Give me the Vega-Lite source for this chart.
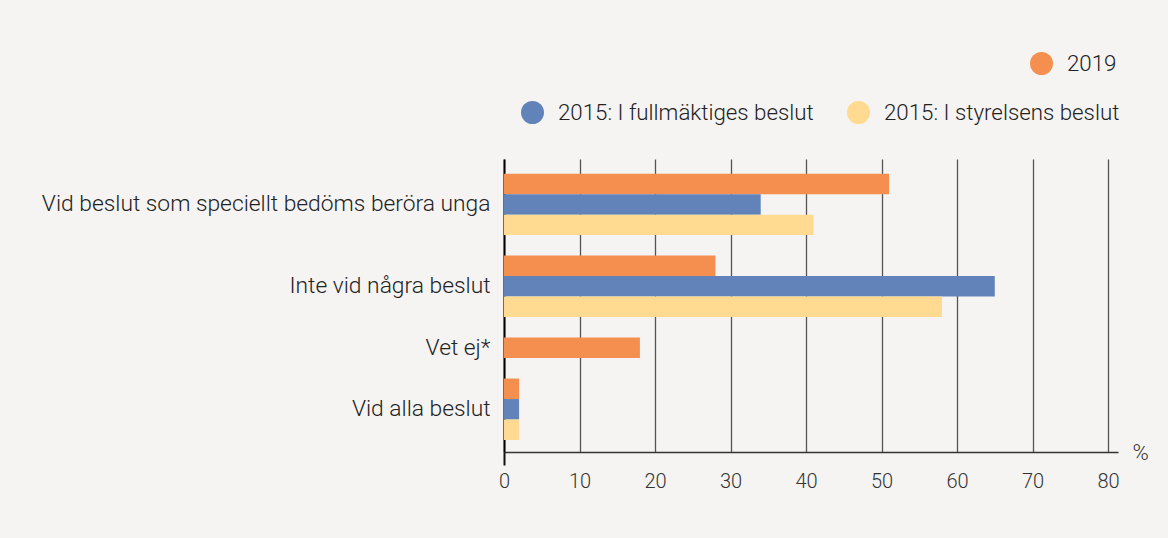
{
  "$schema": "https://vega.github.io/schema/vega-lite/v6.json",
  "autosize": {"type": "none"},
  "width": 614,
  "height": 293,
  "padding": {"left": 504, "top": 159, "right": 50, "bottom": 86},
  "background": "#f5f4f2",
  "config": {
    "view": {"stroke": null},
    "font": "Roboto",
    "legend": {"labelFont": "Roboto", "labelFontWeight": 300, "labelFontSize": 22.3, "labelColor": "#222222", "labelLimit": 0, "symbolType": "circle", "symbolSize": 529, "symbolStrokeWidth": 0, "padding": 0, "labelOffset": 14, "columnPadding": 33}
  },
  "data": {
    "values": [
      {"cat": "Vid beslut som speciellt bedöms beröra unga", "series": "2019", "value": 51},
      {"cat": "Vid beslut som speciellt bedöms beröra unga", "series": "2015: I fullmäktiges beslut", "value": 34},
      {"cat": "Vid beslut som speciellt bedöms beröra unga", "series": "2015: I styrelsens beslut", "value": 41},
      {"cat": "Inte vid några beslut", "series": "2019", "value": 28},
      {"cat": "Inte vid några beslut", "series": "2015: I fullmäktiges beslut", "value": 65},
      {"cat": "Inte vid några beslut", "series": "2015: I styrelsens beslut", "value": 58},
      {"cat": "Vet ej*", "series": "2019", "value": 18},
      {"cat": "Vid alla beslut", "series": "2019", "value": 2},
      {"cat": "Vid alla beslut", "series": "2015: I fullmäktiges beslut", "value": 2},
      {"cat": "Vid alla beslut", "series": "2015: I styrelsens beslut", "value": 2}
    ]
  },
  "transform": [{"calculate": "datum.cat + '|' + datum.series", "as": "key"}],
  "encoding": {
    "x": {
      "field": "value", "type": "quantitative",
      "scale": {"domain": [0, 81.32], "nice": false, "zero": true},
      "axis": {
        "values": [0, 10, 20, 30, 40, 50, 60, 70, 80],
        "grid": true, "gridColor": "#555555", "gridWidth": 1.3,
        "domainColor": "#333333", "domainWidth": 1.5,
        "ticks": true, "tickSize": 13, "tickWidth": 2,
        "tickColor": {"condition": {"test": "datum.value === 0", "value": "#111111"}, "value": "transparent"},
        "labelFont": "Roboto", "labelFontWeight": 300, "labelFontSize": 20, "labelColor": "#333333", "labelPadding": 6, "labelFlush": false,
        "title": "%", "titleFont": "Roboto", "titleFontWeight": 300, "titleFontSize": 22, "titleColor": "#333333",
        "titleAngle": 0, "titleX": 636, "titleY": 0, "titleBaseline": "middle", "titleAlign": "center"
      }
    },
    "y": {
      "field": "key", "type": "nominal",
      "scale": {
        "domain": [
          "Vid beslut som speciellt bedöms beröra unga|2019",
          "Vid beslut som speciellt bedöms beröra unga|2015: I fullmäktiges beslut",
          "Vid beslut som speciellt bedöms beröra unga|2015: I styrelsens beslut",
          "gap1",
          "Inte vid några beslut|2019",
          "Inte vid några beslut|2015: I fullmäktiges beslut",
          "Inte vid några beslut|2015: I styrelsens beslut",
          "gap2",
          "Vet ej*|2019",
          "gap3",
          "Vid alla beslut|2019",
          "Vid alla beslut|2015: I fullmäktiges beslut",
          "Vid alla beslut|2015: I styrelsens beslut"
        ],
        "paddingInner": 0, "paddingOuter": 0.65, "align": 0.55
      },
      "axis": {
        "title": null, "ticks": false, "domainColor": "#000000", "domainWidth": 2,
        "labelExpr": "(split(datum.value,'|')[1] == '2015: I fullmäktiges beslut' || split(datum.value,'|')[0] == 'Vet ej*') ? split(datum.value,'|')[0] : ''",
        "labelFont": "Roboto", "labelFontWeight": 300, "labelFontSize": 22.8, "labelColor": "#222222", "labelPadding": 14, "labelLimit": 0
      }
    }
  },
  "layer": [
    {
      "transform": [{"filter": "datum.series == '2019'"}],
      "mark": {"type": "bar"},
      "encoding": {
        "color": {
          "field": "series", "type": "nominal",
          "scale": {"domain": ["2019"], "range": ["#f48f4f"]},
          "legend": {"title": null, "orient": "none", "legendX": 526, "legendY": -107}
        }
      }
    },
    {
      "transform": [{"filter": "datum.series != '2019'"}],
      "mark": {"type": "bar"},
      "encoding": {
        "fill": {
          "field": "series", "type": "nominal",
          "scale": {"domain": ["2015: I fullmäktiges beslut", "2015: I styrelsens beslut"], "range": ["#6183b9", "#ffda90"]},
          "legend": {"title": null, "orient": "none", "direction": "horizontal", "legendX": 17, "legendY": -58}
        }
      }
    }
  ]
}
